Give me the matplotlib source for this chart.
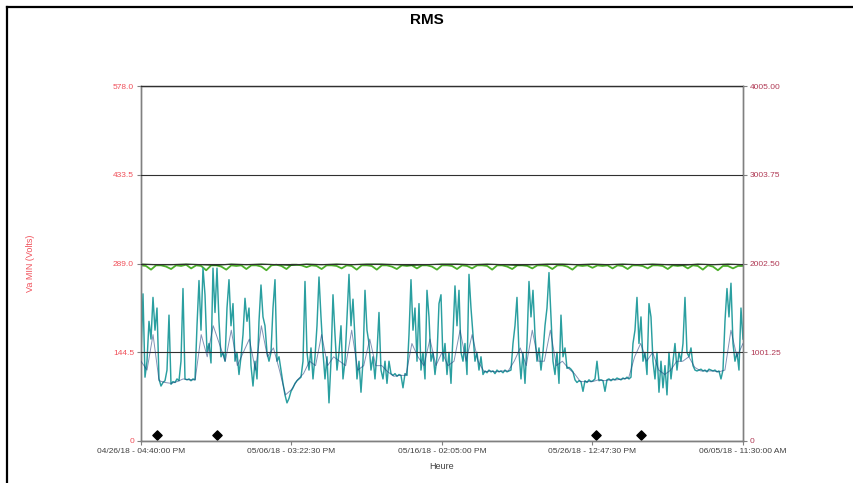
import numpy as np
import pandas as pd
import matplotlib
matplotlib.use("Agg")
import matplotlib.pyplot as plt
from matplotlib.lines import Line2D

plt.rcParams['font.family'] = ['Liberation Sans', 'DejaVu Sans']

# ---- time span of the recording ----
t_start = pd.Timestamp("2018-04-26 16:40:00")
t_end = pd.Timestamp("2018-06-05 11:30:00")

x_tick_labels = [
    "04/26/18 - 04:40:00 PM",
    "05/06/18 - 03:22:30 PM",
    "05/16/18 - 02:05:00 PM",
    "05/26/18 - 12:47:30 PM",
    "06/05/18 - 11:30:00 AM",
]
left_ticks = [0, 144.5, 289.0, 433.5, 578.0]
left_tick_labels = ["0", "144.5", "289.0", "433.5", "578.0"]
right_ticks = [0, 1001.25, 2002.50, 3003.75, 4005.00]
right_tick_labels = ["0", "1001.25", "2002.50", "3003.75", "4005.00"]

# ---- measured series (right axis units) ----
teal_vals = [
    950, 1660, 720, 900, 1350, 1150, 1620, 1250, 1500, 700,
    620, 660, 680, 800, 1420, 640, 670, 660, 700, 680,
    900, 1720, 700, 690, 700, 680, 700, 690, 1300, 1810,
    1250, 1950, 1650, 1000, 1100, 880, 1950, 1450, 1950, 1350,
    950, 1000, 900, 1500, 1820, 1300, 1550, 900, 1000, 750,
    950, 1200, 1610, 1350, 1500, 850, 620, 900, 700, 1350,
    1760, 1400, 1300, 1000, 900, 1000, 1500, 1820, 900, 950,
    800, 650, 520, 430, 480, 560, 600, 650, 680, 700,
    720, 900, 1800, 1000, 800, 1050, 700, 950, 1300, 1850,
    1400, 1000, 700, 950, 430, 900, 1650, 1200, 800, 1000,
    1300, 700, 900, 1400, 1880, 1300, 1600, 1150, 700, 900,
    550, 900, 1700, 1250, 1100, 800, 950, 700, 1000, 1450,
    800, 700, 900, 650, 900, 760, 740, 760, 730, 750,
    740, 600, 760, 740, 1200, 1820, 1250, 1500, 900, 1550,
    800, 1000, 700, 1700, 1400, 900, 1000, 750, 950, 1550,
    1650, 900, 1100, 750, 1000, 650, 1200, 1750, 1300, 1700,
    1000, 900, 1100, 750, 1880, 1500, 1200, 900, 1000, 800,
    950, 750, 790, 770, 800, 780, 790, 760, 800, 780,
    790, 770, 800, 780, 790, 800, 1100, 1300, 1620, 1000,
    700, 1000, 650, 1100, 1800, 1400, 1700, 1200, 900, 1050,
    800, 1000, 1300, 1500, 1900, 1400, 900, 750, 1000, 650,
    1420, 950, 1050, 820, 830, 810, 780, 690, 660, 680,
    670, 560, 680, 660, 690, 670, 680, 700, 900, 680,
    690, 680, 560, 690, 700, 680, 700, 690, 710, 700,
    690, 710, 700, 720, 700, 720, 1100, 1250, 1620, 1100,
    1400, 900, 1000, 750, 1550, 1400, 900, 700, 1000, 550,
    900, 600, 850, 520, 1000, 700, 900, 1100, 800, 1000,
    900, 1100, 1620, 1000, 950, 1050, 850, 800, 790, 800,
    810, 790, 800, 780, 810, 800, 790, 800, 780, 790,
    700, 800, 1350, 1720, 1400, 1780, 1100, 900, 1000, 800,
    1500, 1150,
]

navy_vals = [
    900, 800, 1200, 680, 660, 650, 670, 700, 690, 690,
    1200, 950, 1300, 1100, 900, 1250, 850, 1000, 1150, 800,
    1300, 950, 1050, 800, 520, 580, 690, 760, 900, 850,
    1200, 850, 950, 900, 850, 1250, 800, 850, 1150, 850,
    850, 780, 730, 740, 740, 1100, 950, 850, 1150, 850,
    1000, 850, 900, 1250, 900, 1200, 900, 780, 790, 780,
    790, 790, 900, 1050, 850, 1250, 900, 900, 1250, 850,
    900, 820, 760, 670, 670, 670, 690, 680, 690, 690,
    700, 710, 950, 1100, 900, 1000, 800, 750, 800, 900,
    900, 950, 830, 790, 790, 790, 780, 800, 1250, 950,
    1100,
]

# ---- voltage (left axis units) ----
va_vals = [
    286, 285, 279, 286, 286, 284, 280, 286, 285, 287,
    281, 286, 285, 278, 286, 286, 284, 279, 286, 285,
    286, 280, 286, 286, 284, 278, 286, 287, 285, 280,
    287, 287, 286, 283, 286, 285, 280, 286, 286, 285,
    281, 286, 285, 279, 286, 286, 285, 279, 286, 286,
    284, 280, 286, 285, 286, 281, 286, 286, 284, 279,
    286, 286, 285, 280, 286, 285, 281, 286, 286, 285,
    279, 286, 286, 284, 280, 286, 286, 285, 281, 286,
    286, 285, 280, 286, 286, 284, 279, 286, 285, 286,
    282, 286, 285, 286, 281, 286, 285, 280, 286, 286,
    285, 281, 286, 286, 285, 280, 286, 285, 286, 281,
    286, 285, 279, 286, 284, 278, 285, 285, 281, 285,
    285,
]
va_max_vals = [
    288, 287, 287, 288, 287, 286, 288, 287, 288, 287,
    286, 288, 287, 288, 287, 288, 288, 287, 286, 287,
    288, 288, 287, 288, 287, 286, 287, 288, 288, 287,
    288, 287, 288, 287, 288, 287, 286, 288, 287, 288,
    287,
]

# event markers
event_times = pd.to_datetime([
    "2018-04-27 18:00", "2018-05-01 17:10",
    "2018-05-26 18:20", "2018-05-29 17:40",
])
event_level = [10, 10, 10, 10]

t_teal = pd.date_range(t_start, t_end, periods=len(teal_vals))
t_navy = pd.date_range(t_start, t_end, periods=len(navy_vals))
t_va = pd.date_range(t_start, t_end, periods=len(va_vals))
t_vmax = pd.date_range(t_start, t_end, periods=len(va_max_vals))
x_ticks = pd.date_range(t_start, t_end, periods=len(x_tick_labels))

fig = plt.figure(figsize=(8.54, 4.83), dpi=100)
ax = fig.add_axes([0.1651, 0.0870, 0.7049, 0.7349])
ax2 = ax.twinx()

left_col = "#f0505a"
right_col = "#b03a55"
grey_txt = "#404040"

# voltage on the left scale
ax.plot(t_va, va_vals, color="#4caf2a", lw=1.3, zorder=2)
ax.plot(t_vmax, va_max_vals, color="#1f5e16", lw=0.9, zorder=3)
ax.scatter(event_times, event_level, marker="D", s=22, color="black", zorder=5, clip_on=False)

# current on the right scale
ax2.plot(t_teal, teal_vals, color="#2a9fa0", lw=1.05, zorder=2)
ax2.plot(t_navy, navy_vals, color="#1b3a7a", lw=0.7, alpha=0.55, zorder=3)

ax.set_xlim(t_start, t_end)
ax.set_ylim(0, 578)
ax2.set_ylim(0, 4005)

ax.set_xticks(x_ticks)
ax.set_xticklabels(x_tick_labels, fontsize=6, color=grey_txt)
ax.set_yticks(left_ticks)
ax.set_yticklabels(left_tick_labels, fontsize=6, color=left_col)
ax2.set_yticks(right_ticks)
ax2.set_yticklabels(right_tick_labels, fontsize=6, color=right_col)

ax.tick_params(axis="both", length=3, width=0.8, color="#808080", pad=2)
ax2.tick_params(axis="y", length=3, width=0.8, color="#808080", pad=2)

ax.grid(False)
ax2.set_axisbelow(False)
ax2.grid(True, color="#303030", lw=0.8)
ax2.xaxis.grid(True, color="#303030", lw=0.8)
for a in (ax, ax2):
    for s in a.spines.values():
        s.set_color("#808080")
        s.set_linewidth(1.0)

ax.set_ylabel("Va MIN (Volts)", fontsize=6.5, color=left_col, labelpad=56)
ax.set_xlabel("Heure", fontsize=6.5, color=grey_txt, labelpad=5)

fig.text(0.5, 0.958, "RMS", ha="center", va="center", fontsize=11, fontweight="bold")

# outer frame
fig.add_artist(Line2D([0.0085, 0.0085], [0.0, 0.986], color="black", lw=1.6, transform=fig.transFigure))
fig.add_artist(Line2D([0.0085, 1.0], [0.986, 0.986], color="black", lw=1.6, transform=fig.transFigure))

fig.savefig("out.png", dpi=100)
